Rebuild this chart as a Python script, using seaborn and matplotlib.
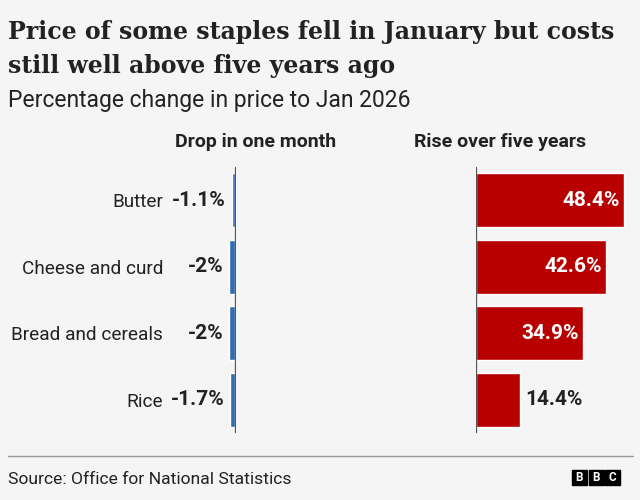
import numpy as np
import pandas as pd
import matplotlib.pyplot as plt
import seaborn as sns

categories = ["Butter", "Cheese and curd", "Bread and cereals", "Rice"]
month_change = [-1.1, -2.0, -2.0, -1.7]
month_labels = ["-1.1%", "-2%", "-2%", "-1.7%"]
five_year_change = [48.4, 42.6, 34.9, 14.4]
five_year_labels = ["48.4%", "42.6%", "34.9%", "14.4%"]

df = pd.DataFrame({"item": categories, "month": month_change, "five": five_year_change})

bg = "#f5f5f5"
text_col = "#222222"
blue = "#2f6db5"
red = "#b80000"

sns.set_theme(style="white")
plt.rcParams["font.family"] = ["Roboto", "DejaVu Sans"]

fig = plt.figure(figsize=(6.4, 5), dpi=100, facecolor=bg)

# axes placed in pixel terms: 640x500 canvas
ax1 = fig.add_axes([170 / 640, 1 - 433 / 500, 66 / 640, 266 / 500])
ax2 = fig.add_axes([476 / 640, 1 - 433 / 500, 153 / 640, 266 / 500])

sns.barplot(data=df, x="month", y="item", color=blue, width=0.81, ax=ax1, saturation=1)
sns.barplot(data=df, x="five", y="item", color=red, width=0.81, ax=ax2, saturation=1)

ax2.set_xlim(0, 50)
for ax in (ax1, ax2):
    ax.set_facecolor(bg)
    ax.set_ylim(3.5, -0.5)
    ax.set_xlabel("")
    ax.set_ylabel("")
    ax.set_xticks([])
    for s in ax.spines.values():
        s.set_visible(False)
ax1.axvline(0, color="#555555", lw=0.9, zorder=5)
ax2.axvline(0, color="#555555", lw=0.9, zorder=5)
ax1.set_xlim(-21.6, 0.35)

ax1.tick_params(axis="y", length=0, pad=5, labelsize=13.7, labelcolor=text_col)
ax2.set_yticks([])

for i, (v, lab) in enumerate(zip(month_change, month_labels)):
    ax1.annotate(lab, (v, i), xytext=(-4, 0), textcoords="offset points",
                 ha="right", va="center", fontsize=15, fontweight="bold", color=text_col)

for i, (v, lab) in enumerate(zip(five_year_change, five_year_labels)):
    if v > 25:
        ax2.annotate(lab, (v, i), xytext=(-3, 0), textcoords="offset points",
                     ha="right", va="center", fontsize=15, fontweight="bold", color="white")
    else:
        ax2.annotate(lab, (v, i), xytext=(4, 0), textcoords="offset points",
                     ha="left", va="center", fontsize=15, fontweight="bold", color=text_col)

fig.text(256 / 640, 1 - 142 / 500, "Drop in one month", ha="center", va="center",
         fontsize=14, fontweight="bold", color=text_col)
fig.text(500 / 640, 1 - 142 / 500, "Rise over five years", ha="center", va="center",
         fontsize=14, fontweight="bold", color=text_col)

fig.text(8 / 640, 1 - 39 / 500, "Price of some staples fell in January but costs",
         ha="left", va="baseline", fontsize=17, fontweight="bold", color=text_col,
         family="DejaVu Serif")
fig.text(8 / 640, 1 - 73 / 500, "still well above five years ago",
         ha="left", va="baseline", fontsize=17, fontweight="bold", color=text_col,
         family="DejaVu Serif")
fig.text(8 / 640, 1 - 107 / 500, "Percentage change in price to Jan 2026",
         ha="left", va="baseline", fontsize=16.5, color=text_col)

fig.add_artist(plt.Line2D([8 / 640, 633 / 640], [1 - 456 / 500, 1 - 456 / 500],
                          color="#999999", lw=1))
fig.text(8 / 640, 1 - 480 / 500, "Source: Office for National Statistics",
         ha="left", va="center", fontsize=12.6, color=text_col)

for k, letter in enumerate("BBC"):
    x0 = (572 + k * 16.5) / 640
    fig.add_artist(plt.Rectangle((x0, 1 - 485 / 500), 15 / 640, 15 / 500,
                                 color="black", transform=fig.transFigure))
    fig.text(x0 + 7.5 / 640, 1 - 477.5 / 500, letter, ha="center", va="center",
             fontsize=8.5, fontweight="bold", color="white")

fig.savefig("out.png", dpi=100, facecolor=bg)
